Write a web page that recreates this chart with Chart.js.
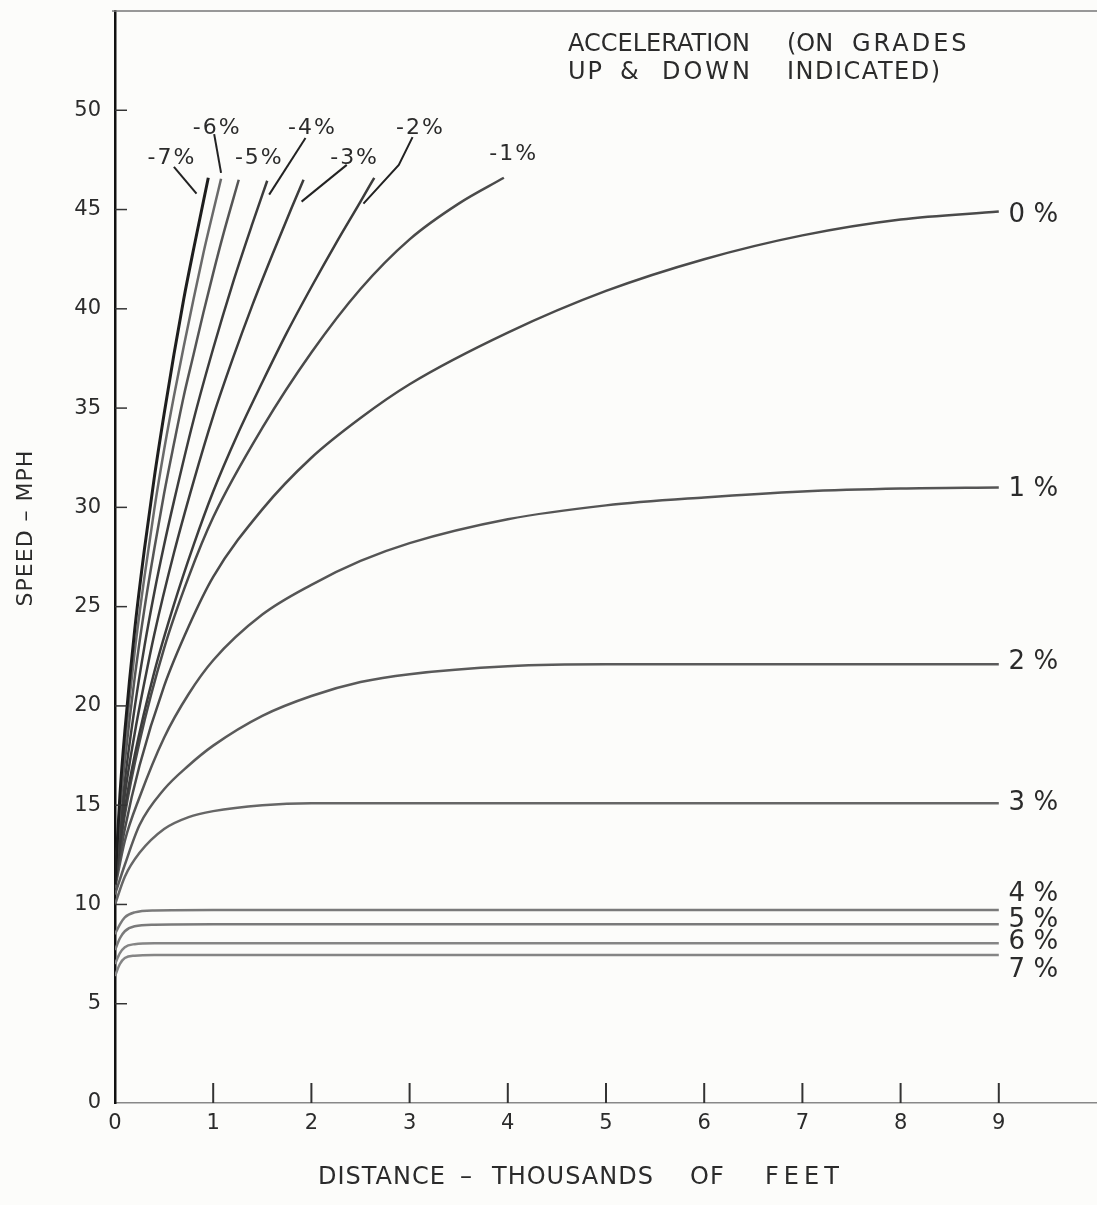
<!DOCTYPE html>
<html>
<head>
<meta charset="utf-8">
<script src="https://cdn.jsdelivr.net/npm/chart.js@4.4.0/dist/chart.umd.min.js"></script>
<style>
  html, body { margin: 0; padding: 0; background: #fcfcfa; }
  #wrap { width: 1097px; height: 1205px; position: relative; }
</style>
</head>
<body>
<div id="wrap"><canvas id="chart"></canvas></div>
<script>
// distance in thousands of feet, speed in mph
const xTicks = [0, 1, 2, 3, 4, 5, 6, 7, 8, 9];
const yTicks = [0, 5, 10, 15, 20, 25, 30, 35, 40, 45, 50];

// downgrades (short, steep curves)
const distM7 = [0, 0.05, 0.1, 0.2, 0.3, 0.4, 0.5, 0.6, 0.7, 0.8, 0.95];
const speedM7 = [11, 15.5, 18.7, 23.8, 27.9, 31.5, 34.7, 37.7, 40.5, 43.0, 46.6];
const distM6 = [0, 0.05, 0.1, 0.2, 0.3, 0.4, 0.5, 0.6, 0.7, 0.8, 0.9, 1.0, 1.08];
const speedM6 = [11, 15.1, 18.0, 22.7, 26.5, 29.9, 32.9, 35.6, 38.1, 40.5, 42.8, 44.9, 46.55];
const distM5 = [0, 0.05, 0.1, 0.2, 0.3, 0.4, 0.5, 0.6, 0.7, 0.8, 0.9, 1.0, 1.1, 1.26];
const speedM5 = [11, 14.7, 17.2, 21.4, 24.9, 27.9, 30.7, 33.2, 35.6, 37.7, 39.8, 41.8, 43.7, 46.5];
const distM4 = [0, 0.1, 0.2, 0.3, 0.4, 0.5, 0.6, 0.8, 1.0, 1.2, 1.4, 1.55];
const speedM4 = [11, 16.2, 19.9, 23.0, 25.7, 28.1, 30.3, 34.4, 38.0, 41.3, 44.3, 46.45];
const distM3 = [0, 0.1, 0.2, 0.3, 0.4, 0.6, 0.8, 1.0, 1.2, 1.4, 1.6, 1.8, 1.92];
const speedM3 = [11, 15.5, 18.6, 21.2, 23.6, 27.7, 31.3, 34.6, 37.5, 40.2, 42.7, 45.1, 46.5];
const distM2 = [0, 0.1, 0.2, 0.4, 0.6, 0.8, 1.0, 1.25, 1.5, 1.75, 2.0, 2.25, 2.5, 2.64];
const speedM2 = [11, 14.8, 17.5, 21.7, 25.1, 28.1, 30.8, 33.7, 36.3, 38.8, 41.1, 43.3, 45.4, 46.6];
const distM1 = [0, 0.1, 0.25, 0.5, 0.75, 1, 1.5, 2, 2.5, 3, 3.5, 3.96];
const speedM1 = [11, 14.5, 18.2, 22.9, 26.5, 29.5, 34.0, 37.8, 41.0, 43.5, 45.3, 46.6];

// level and upgrades run out to 9000 ft
const distLong = [0, 0.1, 0.25, 0.5, 0.75, 1, 1.5, 2, 2.5, 3, 4, 5, 6, 7, 8, 9];
const speed0 = [11, 13.8, 17.0, 21.0, 24.0, 26.5, 29.9, 32.5, 34.5, 36.2, 38.8, 40.9, 42.5, 43.7, 44.5, 44.9];
const speed1 = [10.8, 13.2, 15.4, 18.4, 20.6, 22.3, 24.6, 26.1, 27.3, 28.2, 29.4, 30.1, 30.5, 30.8, 30.95, 31.0];
const speed2 = [10.5, 12.0, 14.0, 15.8, 17.0, 18.0, 19.5, 20.5, 21.2, 21.6, 22.0, 22.1, 22.1, 22.1, 22.1, 22.1];
const speed3 = [10.0, 11.4, 12.6, 13.8, 14.4, 14.7, 15.0, 15.1, 15.1, 15.1, 15.1, 15.1, 15.1, 15.1, 15.1, 15.1];

const distFlat = [0, 0.05, 0.1, 0.2, 0.4, 1, 3, 5, 7, 9];
const speed4 = [8.5, 9.0, 9.35, 9.6, 9.7, 9.72, 9.72, 9.72, 9.72, 9.72];
const speed5 = [7.7, 8.3, 8.65, 8.9, 8.98, 9.0, 9.0, 9.0, 9.0, 9.0];
const speed6 = [7.0, 7.55, 7.85, 8.0, 8.05, 8.05, 8.05, 8.05, 8.05, 8.05];
const speed7 = [6.4, 7.0, 7.3, 7.42, 7.45, 7.45, 7.45, 7.45, 7.45, 7.45];

// curve labels (data units)
const rightLabels = ['0 %', '1 %', '2 %', '3 %', '4 %', '5 %', '6 %', '7 %'];
const rightLabelY = [44.7, 30.9, 22.2, 15.1, 10.5, 9.2, 8.1, 6.7];
const topLabels = ['-7%', '-6%', '-5%', '-4%', '-3%', '-2%', '-1%'];
const topLabelX = [0.58, 1.04, 1.47, 2.01, 2.44, 3.11, 4.06];
const topLabelY = [47.6, 49.1, 47.6, 49.1, 47.6, 49.1, 47.8];
// leader lines from labels to curves
const leaders = [
    [[0.60, 47.15], [0.83, 45.8]],
    [[1.01, 48.8], [1.08, 46.85]],
    [[1.94, 48.6], [1.57, 45.75]],
    [[2.36, 47.25], [1.90, 45.4]],
    [[3.03, 48.65], [2.89, 47.25], [2.53, 45.3]]
];

const FONT = '"DejaVu Sans", sans-serif';
const INK = '#2b2b2b';

function pts(xs, ys) {
    return xs.map((x, i) => ({ x, y: ys[i] }));
}

function curve(xs, ys, color, width) {
    return {
        data: pts(xs, ys),
        borderColor: color,
        borderWidth: width,
        pointRadius: 0,
        fill: false,
        cubicInterpolationMode: 'monotone'
    };
}

const datasets = [
    curve(distM7, speedM7, '#1e1e1e', 3),
    curve(distM6, speedM6, '#6a6a6a', 2.5),
    curve(distM5, speedM5, '#555', 2.5),
    curve(distM4, speedM4, '#3c3c3c', 2.5),
    curve(distM3, speedM3, '#3c3c3c', 2.5),
    curve(distM2, speedM2, '#3c3c3c', 2.5),
    curve(distM1, speedM1, '#4a4a4a', 2.5),
    curve(distLong, speed0, '#4a4a4a', 2.5),
    curve(distLong, speed1, '#555', 2.5),
    curve(distLong, speed2, '#5a5a5a', 2.5),
    curve(distLong, speed3, '#666', 2.5),
    curve(distFlat, speed4, '#7a7a7a', 2.5),
    curve(distFlat, speed5, '#7a7a7a', 2.5),
    curve(distFlat, speed6, '#858585', 2.5),
    curve(distFlat, speed7, '#858585', 2.5)
];

const decor = {
    id: 'decor',
    afterDraw(chart) {
        const { ctx, chartArea: a, scales: { x, y } } = chart;
        ctx.save();

        // top frame line
        ctx.strokeStyle = '#777';
        ctx.lineWidth = 1.5;
        ctx.beginPath();
        ctx.moveTo(a.left - 3, a.top);
        ctx.lineTo(a.right, a.top);
        ctx.stroke();

        // tick marks drawn inward
        ctx.strokeStyle = '#333';
        ctx.lineWidth = 1.5;
        yTicks.slice(1).forEach(v => {
            const py = y.getPixelForValue(v);
            ctx.beginPath();
            ctx.moveTo(a.left, py);
            ctx.lineTo(a.left + 12, py);
            ctx.stroke();
        });
        ctx.lineWidth = 2;
        xTicks.slice(1).forEach(v => {
            const px = x.getPixelForValue(v);
            ctx.beginPath();
            ctx.moveTo(px, a.bottom);
            ctx.lineTo(px, a.bottom - 20);
            ctx.stroke();
        });

        // leader lines
        ctx.strokeStyle = '#222';
        ctx.lineWidth = 2;
        leaders.forEach(l => {
            ctx.beginPath();
            l.forEach(([dx, dy], i) => {
                const px = x.getPixelForValue(dx), py = y.getPixelForValue(dy);
                if (i === 0) ctx.moveTo(px, py); else ctx.lineTo(px, py);
            });
            ctx.stroke();
        });

        ctx.fillStyle = INK;
        ctx.textBaseline = 'middle';

        // grade labels
        ctx.font = '22px ' + FONT;
        ctx.letterSpacing = '2px';
        ctx.textAlign = 'center';
        topLabels.forEach((t, i) => {
            ctx.fillText(t, x.getPixelForValue(topLabelX[i]), y.getPixelForValue(topLabelY[i]));
        });
        ctx.font = '26px ' + FONT;
        ctx.letterSpacing = '0px';
        ctx.textAlign = 'left';
        rightLabels.forEach((t, i) => {
            ctx.fillText(t, x.getPixelForValue(9.1), y.getPixelForValue(rightLabelY[i]));
        });

        // note in the top right
        ctx.font = '24px ' + FONT;
        [['ACCELERATION', 568, 45, 0], ['(ON', 787, 45, 0], ['GRADES', 852, 45, 3],
         ['UP', 568, 73, 2], ['&', 620, 73, 0], ['DOWN', 662, 73, 3], ['INDICATED)', 787, 73, 1.5]]
            .forEach(([t, px, py, ls]) => {
                ctx.letterSpacing = ls + 'px';
                ctx.fillText(t, px, py);
            });

        // axis titles
        ctx.font = '24px ' + FONT;
        [['DISTANCE', 318, 1], ['–', 460, 0], ['THOUSANDS', 492, 1], ['OF', 690, 1], ['FEET', 765, 5]]
            .forEach(([t, px, ls]) => {
                ctx.letterSpacing = ls + 'px';
                ctx.fillText(t, px, 1178);
            });
        ctx.letterSpacing = '1px';
        ctx.translate(26, 528);
        ctx.rotate(-Math.PI / 2);
        ctx.textAlign = 'center';
        ctx.font = '22px ' + FONT;
        ctx.fillText('SPEED – MPH', 0, 0);

        ctx.restore();
    }
};

Chart.defaults.font.family = FONT;

new Chart(document.getElementById('chart'), {
    type: 'line',
    data: { datasets },
    options: {
        responsive: true, maintainAspectRatio: false, animation: false,
        layout: { padding: { top: 11, right: 0, left: 0, bottom: 0 } },
        plugins: { legend: { display: false }, tooltip: { enabled: false } },
        scales: {
            x: {
                type: 'linear', min: 0, max: 10,
                ticks: { stepSize: 1, padding: 8, color: INK, font: { size: 21 } },
                afterBuildTicks: s => { s.ticks = s.ticks.filter(t => xTicks.includes(t.value)); },
                grid: { display: false, drawTicks: false },
                border: { display: true, color: '#888', width: 1.5 },
                afterFit: s => { s.height = 102; s.paddingLeft = 0; s.paddingRight = 0; }
            },
            y: {
                min: 0, max: 55,
                ticks: { stepSize: 5, padding: 14, color: INK, font: { size: 21 } },
                afterBuildTicks: s => { s.ticks = s.ticks.filter(t => yTicks.includes(t.value)); },
                grid: { display: false, drawTicks: false },
                border: { display: true, color: '#111', width: 2.5 },
                afterFit: s => { s.width = 115; s.paddingTop = 0; s.paddingBottom = 0; }
            }
        }
    },
    plugins: [decor]
});
</script>
</body>
</html>
